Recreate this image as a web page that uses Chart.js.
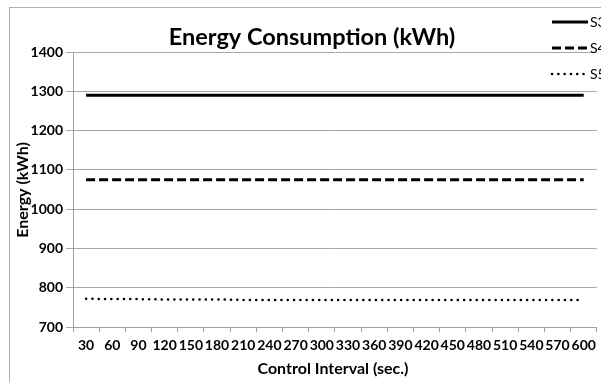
<!DOCTYPE html>
<html>
<head>
<meta charset="utf-8">
<script src="https://cdn.jsdelivr.net/npm/chart.js@4.4.1/dist/chart.umd.min.js"></script>
<style>
html,body{margin:0;padding:0;background:#fff;overflow:hidden;}
#wrap{position:relative;width:601px;height:382px;}
#frame{position:absolute;left:9px;top:7px;width:600px;height:400px;border-left:1px solid #b0b0b0;border-top:1px solid #b0b0b0;}
canvas{position:absolute;left:0;top:0;}
</style>
</head>
<body>
<div id="wrap"><div id="frame"></div><canvas id="c" width="601" height="382"></canvas></div>
<script>
// chart data
const intervals = ['30','60','90','120','150','180','210','240','270','300','330','360','390','420','450','480','510','540','570','600'];
const s3 = [1290,1290,1290,1290,1290,1290,1290,1290,1290,1290,1290,1290,1290,1290,1290,1290,1290,1290,1290,1290];
const s4 = [1075,1075,1075,1075,1075,1075,1075,1075,1075,1075,1075,1075,1075,1075,1075,1075,1075,1075,1075,1075];
const s5 = [772,771,771,770,770,770,769,769,769,769,769,769,769,769,769,769,769,769,769,769];
const yTicks = [700,800,900,1000,1100,1200,1300,1400];

const FONT = 'Lato, "Open Sans", sans-serif';

// draws title, axis titles and the clipped legend on the right
const extras = {
  id:'extras',
  afterDraw(chart){
    const ctx = chart.ctx; ctx.save();
    ctx.fillStyle = '#000'; ctx.textBaseline = 'middle';
    ctx.font = 'bold 23.5px ' + FONT; ctx.textAlign = 'center';
    ctx.fillText('Energy Consumption (kWh)', 312, 37);
    ctx.font = 'bold 16px ' + FONT;
    ctx.fillText('Control Interval (sec.)', 333, 369);
    ctx.translate(23, 190); ctx.rotate(-Math.PI/2);
    ctx.fillText('Energy (kWh)', 0, 0);
    ctx.restore();
    // legend
    ctx.save();
    const rows = [22, 48, 74];
    chart.data.datasets.forEach((ds,i)=>{
      ctx.strokeStyle = ds.borderColor; ctx.lineWidth = ds.borderWidth;
      ctx.setLineDash(ds.borderDash || []); ctx.lineCap = ds.borderCapStyle || 'butt';
      ctx.beginPath(); ctx.moveTo(552, rows[i]); ctx.lineTo(588, rows[i]); ctx.stroke();
      ctx.setLineDash([]);
      ctx.fillStyle = '#000'; ctx.font = '14px ' + FONT; ctx.textAlign = 'left'; ctx.textBaseline = 'middle';
      ctx.fillText(ds.label, 590, rows[i]);
    });
    ctx.restore();
  }
};

new Chart(document.getElementById('c'), {
  type:'line',
  data:{ labels:intervals, datasets:[
    { label:'S3', data:s3, borderColor:'#000', borderWidth:3, pointRadius:0, fill:false },
    { label:'S4', data:s4, borderColor:'#000', borderWidth:3, borderDash:[9,4], pointRadius:0, fill:false },
    { label:'S5', data:s5, borderColor:'#000', borderWidth:2.5, borderDash:[0.1,6.2], borderCapStyle:'round', pointRadius:0, fill:false }
  ]},
  options:{
    responsive:false, animation:false,
    layout:{ padding:{ top:52, right:4, left:0, bottom:0 } },
    plugins:{ legend:{display:false}, title:{display:false}, tooltip:{enabled:false} },
    scales:{
      x:{
        offset:true,
        grid:{ offset:true, drawOnChartArea:false, color:'#a0a0a0', tickLength:5 },
        border:{ color:'#a0a0a0' },
        ticks:{ color:'#000', font:{ family:FONT, weight:'bold', size:14 }, maxRotation:0, autoSkip:false, padding:5 },
        afterFit(s){ s.height = 55; }
      },
      y:{
        min:700, max:1400,
        afterBuildTicks(s){ s.ticks = yTicks.map(v=>({value:v})); },
        grid:{ color:'#a8a8a8', tickLength:7 },
        border:{ color:'#a0a0a0' },
        ticks:{ color:'#000', font:{ family:FONT, weight:'bold', size:14 }, padding:3, callback:v=>String(v) },
        afterFit(s){ s.width = 73; }
      }
    }
  },
  plugins:[extras]
});
</script>
</body>
</html>
